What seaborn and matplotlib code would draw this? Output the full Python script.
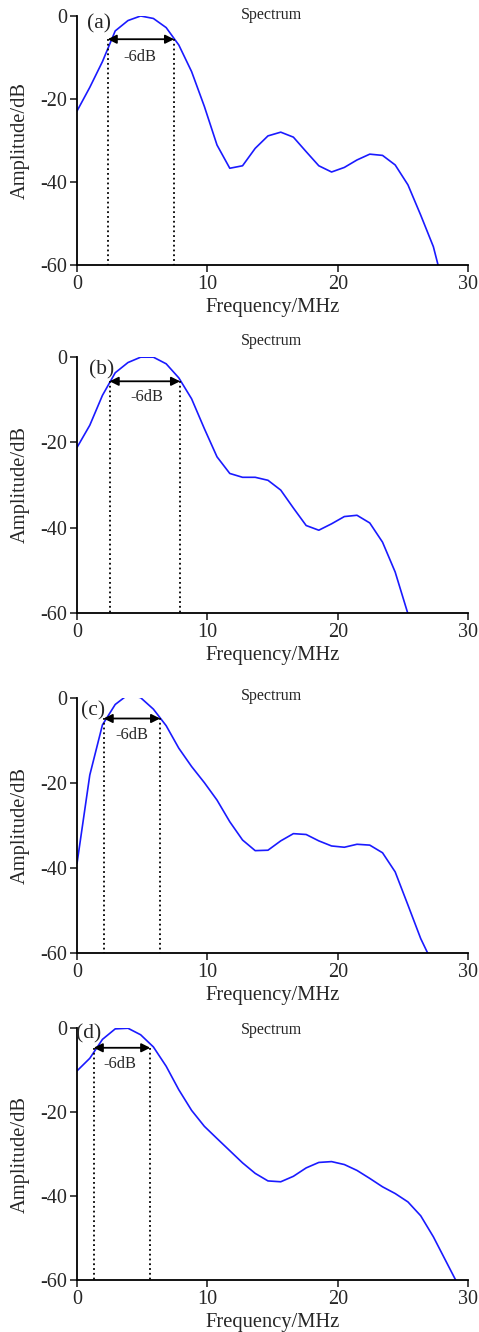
import pandas as pd
import seaborn as sns
import matplotlib.pyplot as plt

# frequency grid of the spectra (MHz)
freq = [0.00, 0.98, 1.95, 2.93, 3.91, 4.88, 5.86, 6.84, 7.81, 8.79,
        9.77, 10.74, 11.72, 12.70, 13.67, 14.65, 15.63, 16.60, 17.58, 18.55,
        19.53, 20.51, 21.48, 22.46, 23.44, 24.41, 25.39, 26.37, 27.34, 28.32,
        29.30]

amp_a = [-22.9, -17.2, -11.0, -3.6, -1.1, 0.0, -0.6, -2.8, -7.0, -13.4,
         -21.8, -31.1, -36.7, -36.1, -31.9, -28.9, -28.0, -29.2, -32.7, -36.1,
         -37.6, -36.5, -34.7, -33.3, -33.6, -35.9, -40.7, -48.0, -55.6, -67.6]
amp_b = [-21.2, -16.0, -9.0, -3.7, -1.3, -0.05, -0.05, -1.6, -4.9, -9.8,
         -16.8, -23.4, -27.3, -28.2, -28.2, -28.9, -31.2, -35.4, -39.5, -40.6,
         -39.1, -37.4, -37.1, -38.9, -43.4, -50.4, -60.2]
amp_c = [-38.9, -18.1, -6.3, -1.5, 0.8, 0.1, -2.6, -6.5, -11.8, -16.1,
         -19.9, -24.0, -29.1, -33.4, -35.9, -35.8, -33.6, -31.9, -32.1, -33.6,
         -34.8, -35.1, -34.4, -34.6, -36.4, -40.9, -48.7, -56.6, -62.8]
amp_d = [-10.2, -7.2, -2.7, -0.2, -0.05, -1.6, -4.5, -9.1, -14.7, -19.6,
         -23.4, -26.3, -29.2, -32.1, -34.6, -36.4, -36.6, -35.3, -33.3, -32.0,
         -31.8, -32.5, -33.9, -35.8, -37.8, -39.4, -41.4, -44.7, -49.7, -55.6,
         -61.5]

panels = ['(a)', '(b)', '(c)', '(d)']
amps = [amp_a, amp_b, amp_c, amp_d]
# -6 dB band edges (MHz) and level of the arrow
band_lo = [2.35, 2.5, 2.04, 1.28]
band_hi = [7.45, 7.91, 6.38, 5.62]
band_db = [-5.6, -5.7, -4.8, -4.7]

sns.set_style('ticks')
plt.rcParams['font.family'] = ['Liberation Serif', 'DejaVu Serif']
plt.rcParams['axes.unicode_minus'] = False

fig = plt.figure(figsize=(4.79, 13.32), dpi=100)
# axes boxes [left, bottom, width, height]
boxes = [[0.1608, 0.8011, 0.8163, 0.1869],
         [0.1608, 0.5398, 0.8163, 0.1922],
         [0.1608, 0.2845, 0.8163, 0.1914],
         [0.1608, 0.0390, 0.8163, 0.1892]]
label_pos = [(1.66, -1.9), (1.9, -3.0), (1.2, -3.1), (0.9, -1.3)]
db_text_pos = [(4.85, -10.0), (5.36, -9.4), (4.2, -8.6), (3.3, -8.6)]
spec_y = [0.2, 3.7, 0.4, -0.55]

for i in range(4):
    ax = fig.add_axes(boxes[i])
    df = pd.DataFrame({'f': freq[:len(amps[i])], 'a': amps[i]})
    sns.lineplot(data=df, x='f', y='a', ax=ax, sort=False, color='#1a1aff',
                 linewidth=1.2)
    ax.set_xlim(0, 30)
    ax.set_ylim(-60, 0)
    ax.set_xticks([0, 10, 20, 30])
    ax.set_yticks([0, -20, -40, -60])
    ax.tick_params(labelsize=14.5, length=5, width=1.2, direction='out', pad=2)
    for s in ['left', 'bottom']:
        ax.spines[s].set_linewidth(1.3)
        ax.spines[s].set_color('black')
    sns.despine(ax=ax)
    ax.set_xlabel('Frequency/MHz', fontsize=14.8, labelpad=3)
    ax.set_ylabel('Amplitude/dB', fontsize=14.8, labelpad=8)

    # -6 dB bandwidth marks
    for xb in [band_lo[i], band_hi[i]]:
        ax.plot([xb, xb], [band_db[i], -60], color='black', linestyle=':',
                linewidth=1.3, clip_on=False)
    ax.annotate('', xy=(band_lo[i], band_db[i]), xytext=(band_hi[i], band_db[i]),
                arrowprops=dict(arrowstyle='<|-|>', color='black', lw=1.3,
                                mutation_scale=13, shrinkA=0, shrinkB=0))
    ax.text(db_text_pos[i][0], db_text_pos[i][1], '-6dB', fontsize=11.8,
            ha='center', va='center')
    ax.text(label_pos[i][0], label_pos[i][1], panels[i], fontsize=15.5,
            ha='center', va='center')
    ax.text(14.9, spec_y[i], 'Spectrum', fontsize=11.5, ha='center',
            va='center', clip_on=False)

fig.savefig('out.png', dpi=100)
